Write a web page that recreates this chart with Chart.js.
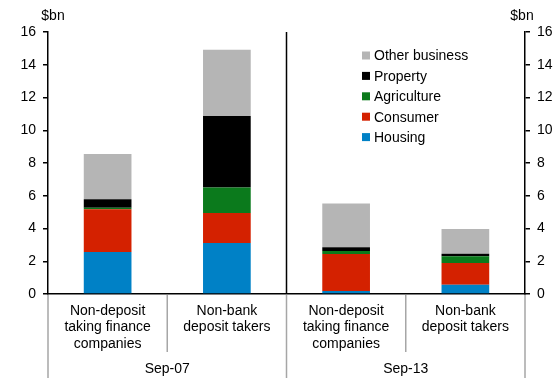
<!DOCTYPE html>
<html>
<head>
<meta charset="utf-8">
<script src="https://cdn.jsdelivr.net/npm/chart.js@4/dist/chart.umd.min.js"></script>
<style>
  html, body { margin: 0; padding: 0; background: #fff; }
  #wrap { width: 555px; height: 378px; position: relative; }
</style>
</head>
<body>
<div id="wrap"><canvas id="chart"></canvas></div>
<script>
// categories (two-level: lender type within period)
const lenderTypes = [
  ['Non-deposit', 'taking finance', 'companies'],
  ['Non-bank', 'deposit takers'],
  ['Non-deposit', 'taking finance', 'companies'],
  ['Non-bank', 'deposit takers']
];
const periods = ['Sep-07', 'Sep-13'];

// $bn
const housing     = [2.56, 3.11, 0.18, 0.57];
const consumer    = [2.61, 1.84, 2.26, 1.32];
const agriculture = [0.10, 1.56, 0.18, 0.41];
const property    = [0.51, 4.36, 0.23, 0.16];
const otherBiz    = [2.77, 4.05, 2.68, 1.51];

const yTicks = [0, 2, 4, 6, 8, 10, 12, 14, 16];

const FONT = 'Arial, "Liberation Sans", sans-serif';
const fontOpt = { family: FONT, size: 14 };

// draws group labels, separator lines, the middle divider and the legend
const extras = {
  id: 'extras',
  afterDraw(chart) {
    const ctx = chart.ctx;
    const area = chart.chartArea;
    const x = chart.scales.x;
    const H = chart.height;
    ctx.save();

    // boundaries between categories
    const edge = i => (x.getPixelForValue(i - 1) + x.getPixelForValue(i)) / 2;
    const left = area.left, right = area.right, mid = edge(2);

    // black divider between the two periods
    ctx.strokeStyle = '#000';
    ctx.lineWidth = 1.5;
    ctx.beginPath();
    ctx.moveTo(mid, area.top);
    ctx.lineTo(mid, area.bottom);
    ctx.stroke();

    // grey separators under the axis
    ctx.strokeStyle = '#a6a6a6';
    ctx.lineWidth = 1.5;
    [left, mid, right].forEach(px => {
      ctx.beginPath();
      ctx.moveTo(px, area.bottom + 1);
      ctx.lineTo(px, H);
      ctx.stroke();
    });
    [edge(1), edge(3)].forEach(px => {
      ctx.beginPath();
      ctx.moveTo(px, area.bottom + 1);
      ctx.lineTo(px, area.bottom + 58);
      ctx.stroke();
    });

    // period labels
    ctx.fillStyle = '#000';
    ctx.font = '14px ' + FONT;
    ctx.textAlign = 'center';
    ctx.textBaseline = 'middle';
    ctx.fillText(periods[0], (left + mid) / 2, area.bottom + 75);
    ctx.fillText(periods[1], (mid + right) / 2, area.bottom + 75);

    // "$bn" unit labels
    ctx.fillText('$bn', 53, 16);
    ctx.fillText('$bn', 522, 16);

    // legend, top of stack first
    const sets = chart.data.datasets.slice().reverse();
    ctx.textAlign = 'left';
    sets.forEach((ds, i) => {
      const cy = 55.5 + i * 20.4;
      ctx.fillStyle = ds.backgroundColor;
      ctx.fillRect(362, cy - 4, 8, 8);
      ctx.fillStyle = '#000';
      ctx.fillText(ds.label, 374, cy + 1);
    });
    ctx.restore();
  }
};

const yAxis = (pos, w) => ({
  position: pos,
  stacked: true,
  min: 0,
  max: 16,
  afterBuildTicks: s => { s.ticks = yTicks.map(v => ({ value: v })); },
  afterFit: s => { s.width = w; },
  ticks: { color: '#000', font: fontOpt, padding: 7 },
  grid: { drawOnChartArea: false, color: '#000', tickLength: 5, lineWidth: 1.5 },
  border: { color: '#000', width: 1.5 }
});

new Chart(document.getElementById('chart'), {
  type: 'bar',
  data: {
    labels: lenderTypes,
    datasets: [
      { label: 'Housing', data: housing, backgroundColor: '#0081c6' },
      { label: 'Consumer', data: consumer, backgroundColor: '#d42100' },
      { label: 'Agriculture', data: agriculture, backgroundColor: '#0b7a1c' },
      { label: 'Property', data: property, backgroundColor: '#000000' },
      { label: 'Other business', data: otherBiz, backgroundColor: '#b5b5b5' }
    ]
  },
  options: {
    responsive: true,
    maintainAspectRatio: false,
    animation: false,
    layout: { padding: { top: 32, left: 0, right: 0, bottom: 0 } },
    datasets: { bar: { barPercentage: 0.4, categoryPercentage: 1 } },
    plugins: { legend: { display: false }, tooltip: { enabled: false } },
    scales: {
      x: {
        stacked: true,
        afterFit: s => { s.height = 84; },
        ticks: { color: '#000', font: { ...fontOpt, lineHeight: 1.17 }, padding: 9, maxRotation: 0, autoSkip: false },
        grid: { display: false, drawTicks: false },
        border: { color: '#000', width: 1.5 }
      },
      y: yAxis('left', 48),
      y2: yAxis('right', 30)
    }
  },
  plugins: [extras]
});
</script>
</body>
</html>
